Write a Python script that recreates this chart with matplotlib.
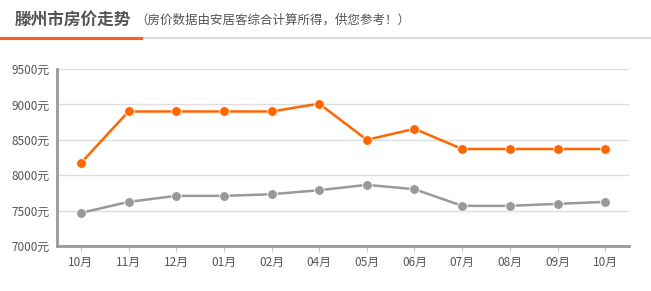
import matplotlib
matplotlib.use('Agg')
import matplotlib.pyplot as plt
from matplotlib.lines import Line2D

plt.rcParams['font.family'] = ['Noto Sans CJK SC', 'DejaVu Sans']

months = ['10月', '11月', '12月', '01月', '02月', '04月', '05月', '06月', '07月', '08月', '09月', '10月']
price_orange = [8170, 8900, 8900, 8900, 8900, 9010, 8500, 8655, 8370, 8370, 8370, 8370]
price_gray = [7467, 7623, 7708, 7708, 7731, 7788, 7864, 7802, 7567, 7567, 7595, 7623]
yticks = [7000, 7500, 8000, 8500, 9000, 9500]
ytick_labels = ['%d元' % v for v in yticks]

W, H = 651, 291
fig = plt.figure(figsize=(W / 100, H / 100), dpi=100)
fig.patch.set_facecolor('white')

# header
fig.text(15 / W, 1 - 20 / H, '滕州市房价走势', fontsize=12, fontweight='bold',
         color='#555555', va='center', ha='left')
fig.text(135 / W, 1 - 20 / H, '（房价数据由安居客综合计算所得，供您参考！）', fontsize=9,
         color='#555555', va='center', ha='left')
fig.add_artist(Line2D([0, 1], [1 - 38 / H] * 2, color='#dddddd', lw=1.6,
                      transform=fig.transFigure))
fig.add_artist(Line2D([0, 141 / W], [1 - 38 / H] * 2, color='#ff5a1f', lw=2.2,
                      transform=fig.transFigure))

left, right, top, bottom = 57, 629, 69, 246
ax = fig.add_axes([left / W, 1 - bottom / H, (right - left) / W, (bottom - top) / H])
x = list(range(len(months)))

ax.plot(x, price_gray, color='#999999', lw=1.8, marker='o', markersize=7,
        markeredgecolor='white', markeredgewidth=0.6, zorder=3)
ax.plot(x, price_orange, color='#ff6600', lw=1.8, marker='o', markersize=7,
        markeredgecolor='white', markeredgewidth=0.6, zorder=4)

ax.set_xlim(-0.5, len(months) - 0.5)
ax.set_ylim(7000, 9500)
ax.set_yticks(yticks)
ax.set_yticklabels(ytick_labels)
ax.set_xticks(x)
ax.set_xticklabels(months)
ax.grid(axis='y', color='#dddddd', lw=1)
ax.set_axisbelow(True)

for s in ['top', 'right']:
    ax.spines[s].set_visible(False)
for s in ['left', 'bottom']:
    ax.spines[s].set_color('#999999')
    ax.spines[s].set_linewidth(2)

ax.tick_params(axis='y', length=0, pad=5, labelsize=8.5, labelcolor='#555555')
ax.tick_params(axis='x', length=4, width=0.8, color='#b8c8d8', pad=3,
               labelsize=8.5, labelcolor='#555555')

fig.savefig('out.png', dpi=100, facecolor='white')
